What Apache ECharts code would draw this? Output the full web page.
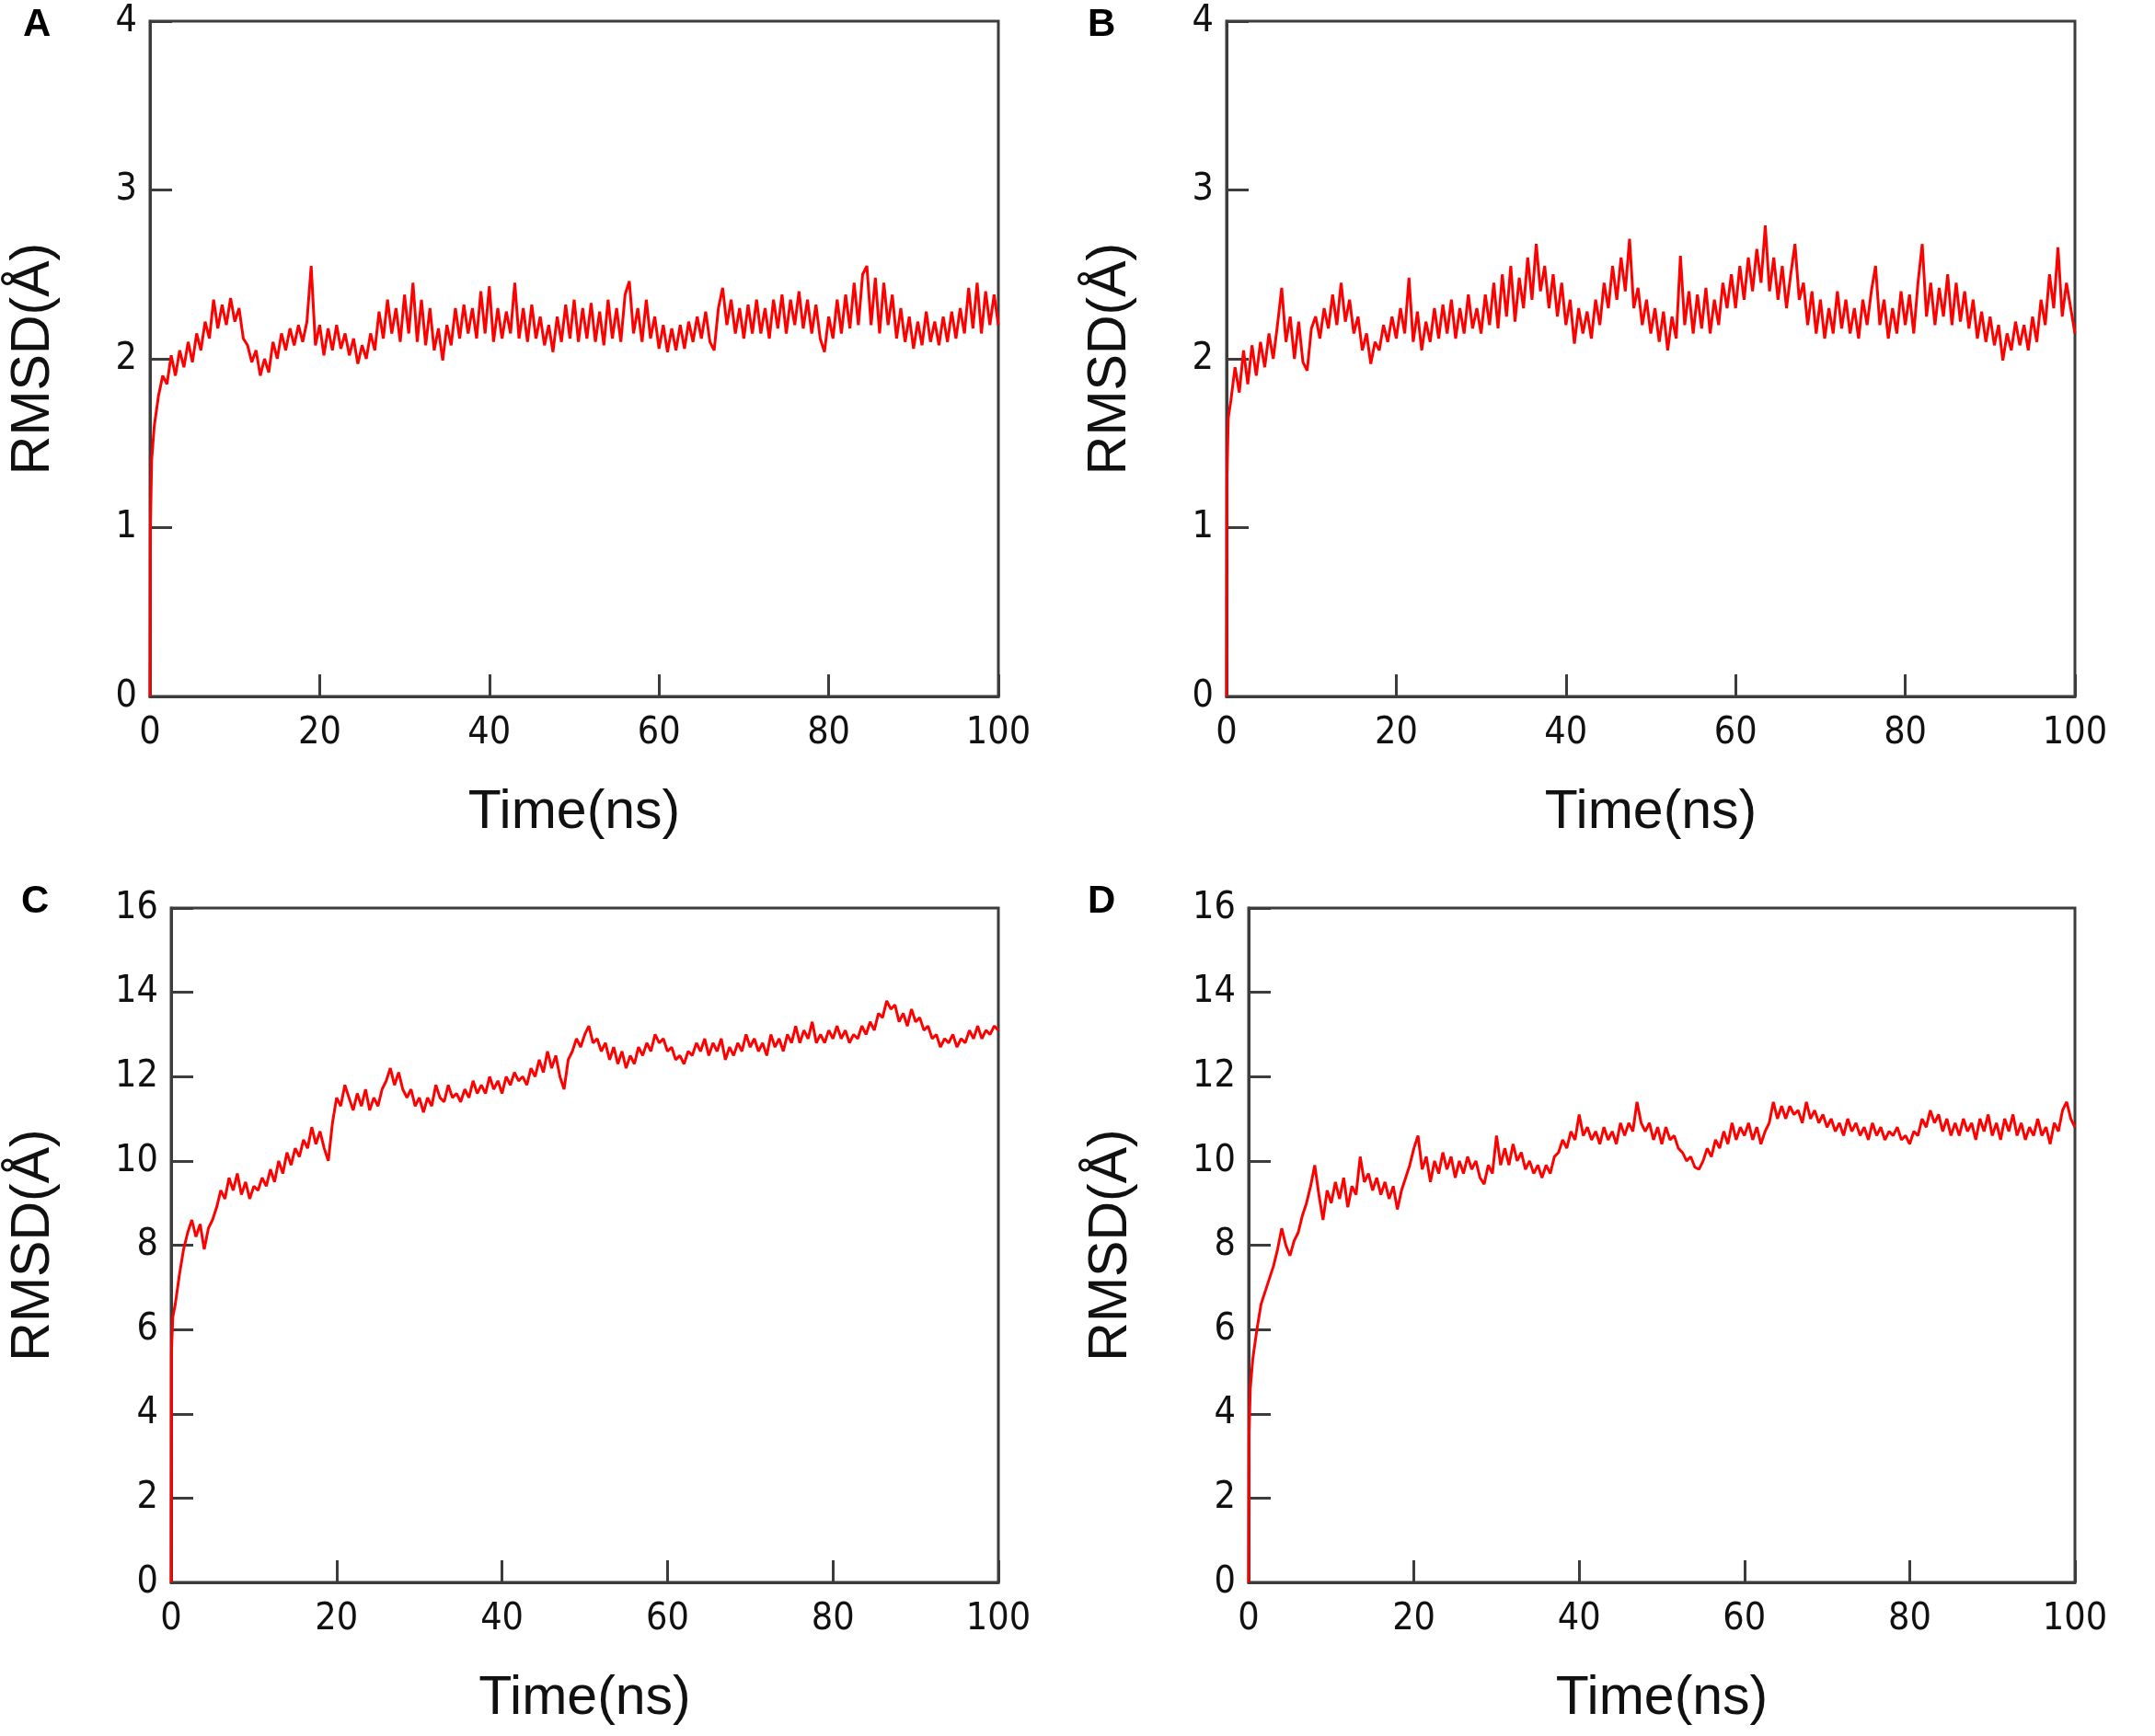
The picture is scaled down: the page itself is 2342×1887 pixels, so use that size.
<!DOCTYPE html>
<html><head><meta charset="utf-8">
<script src="https://cdn.jsdelivr.net/npm/echarts@6/dist/echarts.min.js"></script>
<style>html,body{margin:0;padding:0;background:#fff}#c{width:2342px;height:1887px}</style>
</head><body><div id="c"></div>
<script>
// time grid (ns): a few early samples, then every 0.5 ns
const timeEarly = [0, 0.05, 0.2];
const timeMain = Array.from({length: 200}, (_, i) => (i + 1) * 0.5);
const time = timeEarly.concat(timeMain);

const xTicks = [0, 20, 40, 60, 80, 100];
const yTicksAB = [0, 1, 2, 3, 4];
const yTicksCD = [0, 2, 4, 6, 8, 10, 12, 14, 16];
const panelLetters = ['A', 'B', 'C', 'D'];
const xTitle = 'Time(ns)';
const yTitle = 'RMSD(Å)';

const rmsdA = [0, 1.0, 1.4,
 1.6,1.78,1.9,1.85,2.02,1.9,2.05,1.95,2.1,1.98,
 2.15,2.05,2.22,2.12,2.35,2.18,2.32,2.2,2.36,2.22,
 2.3,2.12,2.08,1.98,2.05,1.9,2.0,1.92,2.1,2.0,
 2.15,2.05,2.18,2.08,2.2,2.1,2.22,2.55,2.08,2.2,
 2.02,2.18,2.05,2.2,2.06,2.15,2.02,2.12,1.97,2.08,
 2.0,2.15,2.05,2.28,2.12,2.35,2.15,2.3,2.1,2.38,
 2.15,2.45,2.1,2.35,2.08,2.3,2.05,2.18,1.99,2.2,
 2.08,2.3,2.12,2.32,2.15,2.3,2.12,2.4,2.15,2.43,
 2.1,2.3,2.12,2.28,2.15,2.45,2.12,2.3,2.1,2.32,
 2.12,2.25,2.08,2.2,2.04,2.25,2.1,2.32,2.12,2.35,
 2.1,2.3,2.12,2.33,2.1,2.28,2.08,2.35,2.12,2.3,
 2.1,2.38,2.46,2.15,2.3,2.1,2.35,2.12,2.25,2.06,
 2.2,2.04,2.18,2.05,2.2,2.06,2.22,2.1,2.25,2.12,
 2.28,2.1,2.05,2.3,2.42,2.2,2.35,2.15,2.3,2.12,
 2.32,2.15,2.35,2.15,2.3,2.12,2.35,2.18,2.38,2.15,
 2.35,2.2,2.4,2.18,2.35,2.15,2.32,2.12,2.04,2.25,
 2.12,2.35,2.15,2.38,2.18,2.45,2.2,2.5,2.55,2.2,
 2.48,2.15,2.45,2.2,2.38,2.12,2.3,2.1,2.25,2.06,
 2.22,2.08,2.28,2.1,2.22,2.08,2.25,2.1,2.28,2.12,
 2.3,2.15,2.42,2.18,2.45,2.15,2.4,2.2,2.38,2.2];

const rmsdB = [0, 1.3, 1.65,
 1.75,1.95,1.8,2.05,1.85,2.08,1.9,2.1,1.95,2.15,
 2.0,2.2,2.42,2.1,2.25,2.0,2.22,1.98,1.93,2.18,
 2.25,2.12,2.3,2.18,2.38,2.2,2.45,2.22,2.35,2.15,
 2.25,2.05,2.15,1.97,2.1,2.05,2.2,2.1,2.25,2.12,
 2.3,2.15,2.48,2.1,2.28,2.05,2.22,2.1,2.3,2.12,
 2.32,2.15,2.35,2.12,2.3,2.15,2.38,2.18,2.3,2.15,
 2.38,2.2,2.45,2.18,2.5,2.25,2.55,2.22,2.48,2.3,
 2.6,2.35,2.68,2.4,2.55,2.3,2.5,2.25,2.45,2.2,
 2.35,2.09,2.3,2.15,2.28,2.12,2.35,2.2,2.45,2.3,
 2.55,2.35,2.6,2.4,2.71,2.3,2.42,2.2,2.35,2.15,
 2.3,2.1,2.28,2.05,2.25,2.12,2.61,2.2,2.4,2.15,
 2.38,2.18,2.42,2.15,2.35,2.2,2.45,2.3,2.5,2.3,
 2.55,2.35,2.6,2.4,2.65,2.45,2.79,2.4,2.6,2.35,
 2.55,2.3,2.5,2.68,2.35,2.45,2.2,2.4,2.15,2.35,
 2.12,2.3,2.15,2.4,2.18,2.35,2.15,2.3,2.12,2.35,
 2.2,2.4,2.55,2.2,2.35,2.12,2.3,2.15,2.4,2.2,
 2.38,2.15,2.45,2.68,2.25,2.45,2.2,2.42,2.25,2.5,
 2.2,2.45,2.22,2.4,2.18,2.35,2.12,2.28,2.1,2.25,
 2.08,2.2,1.99,2.15,2.05,2.22,2.08,2.2,2.05,2.25,
 2.1,2.35,2.2,2.5,2.3,2.66,2.25,2.45,2.3,2.15];

const rmsdC = [0, 5.5, 6.3,
 6.6,7.3,7.9,8.3,8.6,8.2,8.5,7.9,8.4,8.6,
 8.9,9.3,9.1,9.6,9.3,9.7,9.2,9.5,9.1,9.4,
 9.3,9.6,9.4,9.8,9.5,10.0,9.7,10.2,9.9,10.3,
 10.1,10.5,10.3,10.8,10.4,10.7,10.3,10.0,10.9,11.5,
 11.3,11.8,11.5,11.2,11.6,11.3,11.7,11.2,11.5,11.3,
 11.7,11.9,12.2,11.8,12.1,11.7,11.5,11.7,11.3,11.5,
 11.15,11.5,11.3,11.8,11.5,11.4,11.8,11.5,11.6,11.4,
 11.7,11.5,11.9,11.6,11.8,11.6,12.0,11.7,11.9,11.6,
 12.0,11.8,12.1,11.9,12.0,11.8,12.2,12.0,12.4,12.1,
 12.6,12.2,12.5,12.0,11.7,12.4,12.6,12.9,12.7,13.0,
 13.2,12.8,12.9,12.6,12.8,12.4,12.7,12.3,12.6,12.2,
 12.5,12.3,12.7,12.5,12.8,12.6,13.0,12.8,12.9,12.6,
 12.7,12.4,12.5,12.3,12.6,12.5,12.8,12.6,12.9,12.5,
 12.8,12.6,12.9,12.4,12.7,12.5,12.8,12.6,13.0,12.7,
 12.9,12.6,12.8,12.5,13.0,12.7,12.9,12.6,13.0,12.8,
 13.2,12.8,13.1,12.9,13.3,12.8,13.0,12.8,13.1,12.9,
 13.2,12.9,13.1,12.8,13.0,12.9,13.2,13.0,13.3,13.1,
 13.5,13.4,13.8,13.6,13.7,13.3,13.5,13.2,13.6,13.3,
 13.4,13.1,13.2,12.9,13.0,12.7,12.9,12.8,13.0,12.7,
 12.9,12.8,13.1,12.9,13.2,12.9,13.1,13.0,13.2,13.1];

const rmsdD = [0, 3.5, 4.6,
 5.3,6.0,6.6,6.9,7.2,7.5,7.9,8.4,8.0,7.75,
 8.1,8.3,8.7,9.0,9.4,9.9,9.2,8.6,9.3,9.0,
 9.5,9.1,9.6,8.9,9.4,9.2,10.1,9.5,9.7,9.3,
 9.6,9.2,9.5,9.1,9.4,8.85,9.3,9.6,9.9,10.3,
 10.6,9.8,10.1,9.5,10.0,9.7,10.2,9.8,10.1,9.6,
 10.0,9.7,10.1,9.8,10.0,9.6,9.45,9.9,9.7,10.6,
 9.9,10.3,9.9,10.4,10.0,10.2,9.8,10.0,9.7,9.9,
 9.6,9.9,9.7,10.1,10.2,10.5,10.3,10.7,10.5,11.1,
 10.6,10.8,10.5,10.7,10.4,10.8,10.5,10.7,10.4,10.9,
 10.6,10.9,10.7,11.4,10.9,10.7,10.9,10.5,10.8,10.4,
 10.8,10.5,10.6,10.3,10.2,10.0,10.1,9.85,9.8,10.0,
 10.3,10.1,10.5,10.3,10.7,10.4,10.9,10.5,10.8,10.6,
 10.9,10.5,10.8,10.4,10.7,10.9,11.4,11.0,11.3,11.0,
 11.3,11.1,11.2,10.9,11.4,11.0,11.2,10.9,11.1,10.8,
 11.0,10.7,10.9,10.6,11.0,10.7,10.9,10.6,10.8,10.5,
 10.9,10.6,10.8,10.5,10.7,10.6,10.8,10.5,10.6,10.4,
 10.7,10.6,11.0,10.8,11.2,10.9,11.1,10.7,11.0,10.6,
 10.9,10.6,11.0,10.7,10.9,10.5,11.0,10.7,11.1,10.6,
 10.9,10.5,11.0,10.7,11.1,10.6,10.9,10.5,10.8,10.6,
 11.0,10.6,10.8,10.4,10.9,10.7,11.2,11.4,11.0,10.8];

// ---- layout / style (not data) ----
const layout = [
  {left: 163, top: 23, width: 922, height: 734, yGap: 97, letterX: 25, letterY: 6},
  {left: 1333, top: 23, width: 922, height: 734, yGap: 97, letterX: 1182, letterY: 6},
  {left: 186, top: 987, width: 899, height: 733, yGap: 120, letterX: 23, letterY: 959},
  {left: 1357, top: 987, width: 898, height: 733, yGap: 120, letterX: 1182, letterY: 959}
];
const seriesData = [rmsdA, rmsdB, rmsdC, rmsdD];
const yTickSets = [yTicksAB, yTicksAB, yTicksCD, yTicksCD];

const narrow = "'Liberation Sans Narrow', 'Arial Narrow', 'DejaVu Sans Condensed', sans-serif";
const sans = "'Liberation Sans', Arial, sans-serif";
const axisColor = '#3c3c3c';
const textColor = '#111111';

const grids = [], xAxes = [], yAxes = [], series = [], titles = [];
layout.forEach((L, i) => {
  grids.push({left: L.left, top: L.top, width: L.width, height: L.height,
    show: true, borderColor: axisColor, borderWidth: 3, backgroundColor: 'transparent'});
  xAxes.push({
    gridIndex: i, type: 'value',
    min: xTicks[0], max: xTicks[xTicks.length - 1], interval: xTicks[1] - xTicks[0],
    name: xTitle, nameLocation: 'middle', nameGap: 97,
    nameTextStyle: {fontSize: 59, fontFamily: sans, color: textColor},
    axisLine: {show: true, lineStyle: {color: axisColor, width: 3}},
    axisTick: {show: true, inside: true, length: 24, lineStyle: {color: axisColor, width: 3}},
    axisLabel: {fontSize: 41, fontFamily: narrow, color: textColor, margin: 20},
    splitLine: {show: false}
  });
  const yt = yTickSets[i];
  yAxes.push({
    gridIndex: i, type: 'value',
    min: yt[0], max: yt[yt.length - 1], interval: yt[1] - yt[0],
    name: yTitle, nameLocation: 'middle', nameGap: L.yGap,
    nameTextStyle: {fontSize: 59, fontFamily: sans, color: textColor},
    axisLine: {show: true, lineStyle: {color: axisColor, width: 3}},
    axisTick: {show: true, inside: true, length: 24, lineStyle: {color: axisColor, width: 3}},
    axisLabel: {fontSize: 41, fontFamily: narrow, color: textColor, margin: 14},
    splitLine: {show: false}
  });
  const d = seriesData[i];
  series.push({
    type: 'line', xAxisIndex: i, yAxisIndex: i,
    data: time.slice(0, d.length).map((t, k) => [t, d[k]]),
    showSymbol: false, symbol: 'none', silent: true,
    lineStyle: {color: '#ff0000', width: 3},
    z: 1
  });
  titles.push({text: panelLetters[i], left: L.letterX, top: L.letterY, padding: 0,
    textStyle: {fontSize: 42, fontWeight: 'bold', fontFamily: sans, color: '#000'}});
});

const chart = echarts.init(document.getElementById('c'), null, {renderer: 'canvas'});
chart.setOption({
  animation: false,
  backgroundColor: '#ffffff',
  title: titles,
  grid: grids,
  xAxis: xAxes,
  yAxis: yAxes,
  series: series
});
</script>
</body></html>
